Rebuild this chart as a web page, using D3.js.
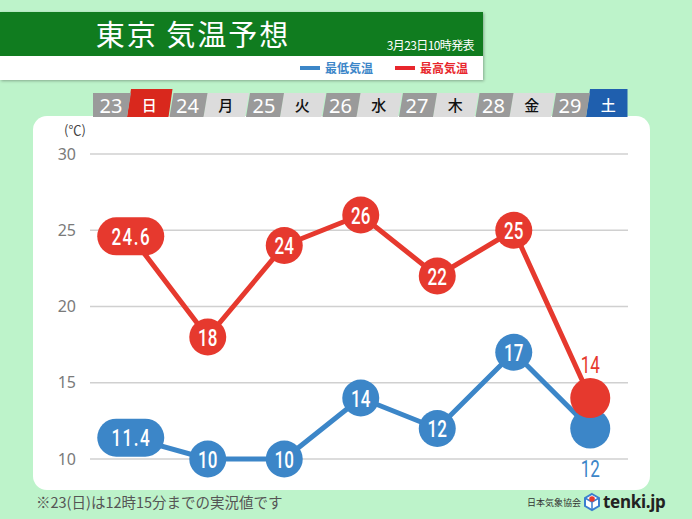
<!DOCTYPE html>
<html><head><meta charset="utf-8">
<script src="https://cdn.jsdelivr.net/npm/d3@7"></script>
<style>
html,body{margin:0;padding:0;background:#bdf3ca;}
svg{display:block;}
</style></head>
<body>
<script>
const days = ["23","24","25","26","27","28","29"];
const weekdays = ["日","月","火","水","木","金","土"];
const highTemps = [24.6,18,24,26,22,25,14];
const lowTemps = [11.4,10,10,14,12,17,12];
const highLabels = ["24.6","18","24","26","22","25","14"];
const lowLabels = ["11.4","10","10","14","12","17","12"];
const yTicks = [10,15,20,25,30];

const W=692,H=519;
const RED="#e6392e", BLUE="#3c86c8";
const JP='"Noto Sans CJK JP","Noto Sans",sans-serif';
const NUM='Roboto,"Noto Sans",sans-serif';

const svg=d3.select("body").append("svg").attr("width",W).attr("height",H);
svg.append("rect").attr("width",W).attr("height",H).attr("fill","#bdf3ca");

// Header banner
const defs=svg.append("defs");
const f=defs.append("filter").attr("id","sh").attr("x","-5%").attr("y","-20%").attr("width","110%").attr("height","150%");
f.append("feDropShadow").attr("dx",1).attr("dy",1).attr("stdDeviation",1.5).attr("flood-color","#000").attr("flood-opacity",0.3);
svg.append("rect").attr("x",0).attr("y",12).attr("width",483).attr("height",68).attr("fill","#fff").attr("filter","url(#sh)");
svg.append("rect").attr("x",0).attr("y",12).attr("width",483).attr("height",44).attr("fill","#107c1f");
svg.append("text").attr("x",193).attr("y",46).attr("text-anchor","middle").attr("fill","#fff")
  .attr("font-family",JP).attr("font-size",29).attr("font-weight",400).attr("letter-spacing",2).text("東京 気温予想");
svg.append("text").attr("x",474).attr("y",50).attr("text-anchor","end").attr("fill","#fff")
  .attr("font-family",JP).attr("font-size",12).attr("letter-spacing",-0.6).text("3月23日10時発表");
// legend
svg.append("rect").attr("x",300).attr("y",66).attr("width",20).attr("height",4).attr("fill",BLUE);
svg.append("text").attr("x",325).attr("y",72.5).attr("fill",BLUE).attr("font-family",JP).attr("font-size",12).attr("font-weight",700).text("最低気温");
svg.append("rect").attr("x",395).attr("y",66).attr("width",20).attr("height",4).attr("fill","#e8262c");
svg.append("text").attr("x",420).attr("y",72.5).attr("fill","#e8262c").attr("font-family",JP).attr("font-size",12).attr("font-weight",700).text("最高気温");

// panel
svg.append("rect").attr("x",33).attr("y",116).attr("width",617).attr("height",374).attr("rx",14).attr("fill","#fff");

// scales
const x=d3.scaleBand().domain(days).range([93,628.5]).padding(0);
const bw=x.bandwidth();
const cx=d=>x(d)+bw/2;
const y=d3.scaleLinear().domain([10,30]).range([459,154]);

// tabs
const tabTop=93, tabBot=117, sl=4;
const para=(a,b,top,leftStraight,rightStraight)=>{
  const tl=leftStraight?a:a+sl, tr=rightStraight?b:b+sl;
  return `M${a},${tabBot}L${tl},${top}L${tr},${top}L${b},${tabBot}Z`;
};
const tabs=svg.append("g");
days.forEach((d,i)=>{
  const x0=x(d), mid=x0+34, x1=x0+bw;
  const wd=weekdays[i];
  const special = wd==="日"?"#d9281d":(wd==="土"?"#1f5fae":null);
  tabs.append("path").attr("d",para(mid,x1-1,special?89:tabTop,false,i===days.length-1))
    .attr("fill",special||"#dcdcdc");
  tabs.append("path").attr("d",para(x0,mid,tabTop,i===0,false)).attr("fill","#9a9a9a");
  tabs.append("text").attr("x",x0+18).attr("y",113).attr("text-anchor","middle").attr("fill","#fff")
    .attr("font-family",'"Noto Sans",sans-serif').attr("font-size",20).text(d);
  tabs.append("text").attr("x",(mid+x1)/2+1).attr("y",111).attr("text-anchor","middle")
    .attr("fill",special?"#fff":"#111").attr("font-family",JP).attr("font-size",15).attr("font-weight",500).text(wd);
});

// grid + y axis
const yAxis=d3.axisLeft(y).tickValues(yTicks).tickSize(0).tickPadding(0);
const gy=svg.append("g").attr("transform","translate(76,0)").call(yAxis);
gy.select(".domain").remove();
gy.selectAll("text").attr("fill","#7a7a7a").attr("font-family",'"Noto Sans",sans-serif').attr("font-size",16).attr("dy","0.32em");
svg.append("g").selectAll("line").data(yTicks).join("line")
  .attr("x1",90).attr("x2",628).attr("y1",d=>y(d)).attr("y2",d=>y(d)).attr("stroke","#d0d0d0").attr("stroke-width",1.5);
svg.append("text").attr("x",75).attr("y",135).attr("text-anchor","middle").attr("fill","#444")
  .attr("font-family",JP).attr("font-size",13).text("(℃)");

function label(g,px,py,txt,color,weight){
  g.append("g").attr("transform",`translate(${px},${py})`)
    .append("text").attr("transform","scale(0.74,1)").attr("text-anchor","middle").attr("fill",color)
    .attr("font-family",NUM).attr("font-weight",weight).attr("font-size",23)
    .attr("letter-spacing",txt.includes(".")?2:0).text(txt);
}
function drawSeries(vals,labels,color,lastAbove){
  const g=svg.append("g");
  const line=d3.line().x((v,i)=>cx(days[i])).y(v=>y(v));
  g.append("path").attr("d",line(vals)).attr("fill","none").attr("stroke",color).attr("stroke-width",5).attr("stroke-linejoin","round");
  vals.forEach((v,i)=>{
    const px=cx(days[i]), py=y(v), lab=labels[i];
    const last=i===vals.length-1;
    if(lab.includes(".")){
      g.append("rect").attr("x",px-34).attr("y",py-19).attr("width",67).attr("height",38).attr("rx",19).attr("fill",color);
    } else {
      g.append("circle").attr("cx",px).attr("cy",py).attr("r",last?20:18.5).attr("fill",color);
    }
    if(last){
      label(g,px,lastAbove?py-25:py+48,lab,color,400);
    } else {
      label(g,px,py+8.5,lab,"#fff",500);
    }
  });
}
drawSeries(lowTemps,lowLabels,BLUE,false);
drawSeries(highTemps,highLabels,RED,true);

// footer
svg.append("text").attr("x",36).attr("y",508).attr("fill","#555").attr("font-family",JP).attr("font-size",14.5).text("※23(日)は12時15分までの実況値です");
svg.append("text").attr("x",527).attr("y",506).attr("fill","#333").attr("font-family",JP).attr("font-size",9).text("日本気象協会");
const lg=svg.append("g").attr("transform","translate(592,502)");
lg.append("path").attr("d","M0,-8L7,-4L7,4L0,8L-7,4L-7,-4Z").attr("fill","#fff").attr("stroke","#3a7fd0").attr("stroke-width",2);
lg.append("path").attr("d","M0,0L7,-4M0,0L0,8M0,0L-7,-4").attr("stroke","#3a7fd0").attr("stroke-width",1.5);
lg.append("circle").attr("cx",0).attr("cy",-3).attr("r",2.8).attr("fill","#e53a2f");
svg.append("text").attr("x",603).attr("y",508).attr("fill","#222").attr("font-family",'"Noto Sans",sans-serif').attr("font-size",17).attr("font-weight",700).attr("letter-spacing",-0.3).text("tenki.jp");
</script>
</body></html>
